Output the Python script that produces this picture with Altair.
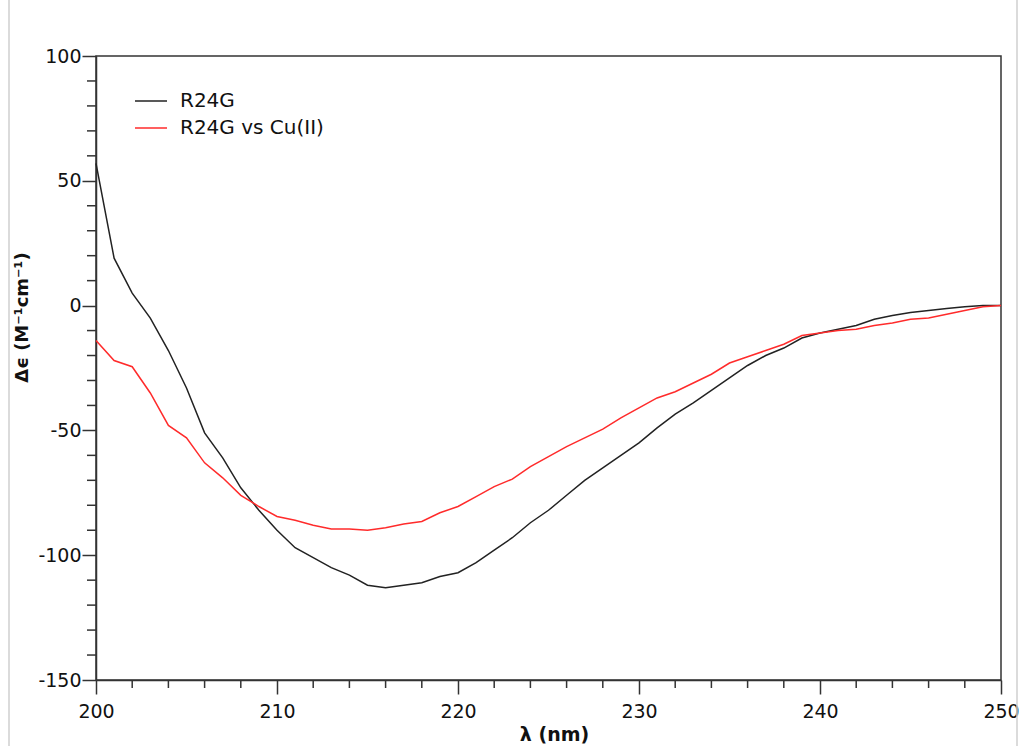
import altair as alt
import pandas as pd

# CD spectra, one reading per nm from 200 to 250 nm
wavelength = list(range(200, 251))

r24g = [57, 19, 5, -5, -18, -33, -51, -61, -73, -82,
        -90, -97, -101, -105, -108, -112, -113, -112, -111, -108.5,
        -107, -103, -98, -93, -87, -82, -76, -70, -65, -60,
        -55, -49, -43.5, -39, -34, -29, -24, -20, -17, -13,
        -11, -9.5, -8, -5.5, -4, -2.8, -2, -1.2, -0.5, 0,
        0]

r24g_cu = [-14, -22, -24.5, -35, -48, -53, -63, -69, -76, -80.5,
           -84.5, -86, -88, -89.5, -89.5, -90, -89, -87.5, -86.5, -83,
           -80.5, -76.5, -72.5, -69.5, -64.5, -60.5, -56.5, -53, -49.5, -45,
           -41, -37, -34.5, -31, -27.5, -23, -20.5, -18, -15.5, -12,
           -11, -10, -9.5, -8, -7, -5.5, -5, -3.5, -2, -0.5,
           0]

series_names = ["R24G", "R24G vs Cu(II)"]
series_colors = ["#222222", "#ff2b2b"]

x_major = [200, 210, 220, 230, 240, 250]
x_minor = [v for v in range(202, 250, 2) if v % 10 != 0]
y_major = [-150, -100, -50, 0, 50, 100]
y_minor = [v for v in range(-140, 100, 10) if v % 50 != 0]

rows = []
for name, values in zip(series_names, [r24g, r24g_cu]):
    for w, v in zip(wavelength, values):
        rows.append({"wl": w, "de": v, "series": name})
df = pd.DataFrame(rows)

W, H = 905, 624
FONT = "DejaVu Sans"
AX = "#333333"

x_scale = alt.Scale(domain=[200, 250], nice=False, zero=False)
y_scale = alt.Scale(domain=[-150, 100], nice=False, zero=False)

# plain hyphen-minus in tick labels
plain_label = "toString(datum.value)"

lines = alt.Chart(df).mark_line(strokeWidth=1.5).encode(
    x=alt.X("wl:Q", scale=x_scale,
            axis=alt.Axis(values=x_major, title="λ (nm)", labelExpr=plain_label,
                          tickSize=14, labelPadding=8, labelFontSize=19,
                          labelFlush=False,
                          titleFontSize=19, titleFontWeight="bold",
                          titleX=458, titleAlign="center",
                          titleY=54, titleBaseline="middle", grid=False)),
    y=alt.Y("de:Q", scale=y_scale,
            axis=alt.Axis(values=y_major, title="Δϵ (M⁻¹cm⁻¹)", labelExpr=plain_label,
                          tickSize=14, labelPadding=1, labelFontSize=19,
                          labelFlush=False,
                          titleFontSize=18, titleFontWeight="bold",
                          titleX=-74, titleY=261, titleAngle=-90,
                          titleBaseline="middle", titleAlign="center",
                          grid=False)),
    color=alt.Color("series:N",
                    scale=alt.Scale(domain=series_names, range=series_colors),
                    legend=alt.Legend(title=None, orient="none",
                                      legendX=38, legendY=28,
                                      symbolType="stroke", symbolSize=1024,
                                      symbolStrokeWidth=1.5, labelOffset=12,
                                      labelFontSize=20, rowPadding=-6)),
    order="wl:Q",
)

# minor ticks on both axes
y_minor_ticks = alt.Chart(pd.DataFrame({"v": y_minor})).mark_rule(
    color=AX, strokeWidth=1.5
).encode(y=alt.Y("v:Q", scale=y_scale), x=alt.value(-9), x2=alt.value(0))

x_minor_ticks = alt.Chart(pd.DataFrame({"v": x_minor})).mark_rule(
    color=AX, strokeWidth=1.5
).encode(x=alt.X("v:Q", scale=x_scale), y=alt.value(H), y2=alt.value(H + 8))

# light page borders at both sides
edges = alt.Chart(pd.DataFrame({"e": [-87, W + 16]})).mark_rule(
    color="#cfcfcf", strokeWidth=1.5
).encode(x=alt.X("e:Q", scale=None), y=alt.value(-56), y2=alt.value(H + 66))

chart = alt.layer(edges, y_minor_ticks, x_minor_ticks, lines).properties(
    width=W, height=H,
    autosize=alt.AutoSizeParams(type="none"),
    padding={"left": 96, "top": 56, "right": 23, "bottom": 66},
    background="white",
).configure_view(
    stroke=AX, strokeWidth=1.5
).configure_axis(
    domainColor=AX, domainWidth=1.5, tickColor=AX, tickWidth=1.5,
    labelColor="#111111", titleColor="#111111",
    labelFont=FONT, titleFont=FONT,
).configure_legend(
    labelFont=FONT, labelColor="#111111"
)

chart.save("out.html", embed_options={"renderer": "svg", "actions": False})
